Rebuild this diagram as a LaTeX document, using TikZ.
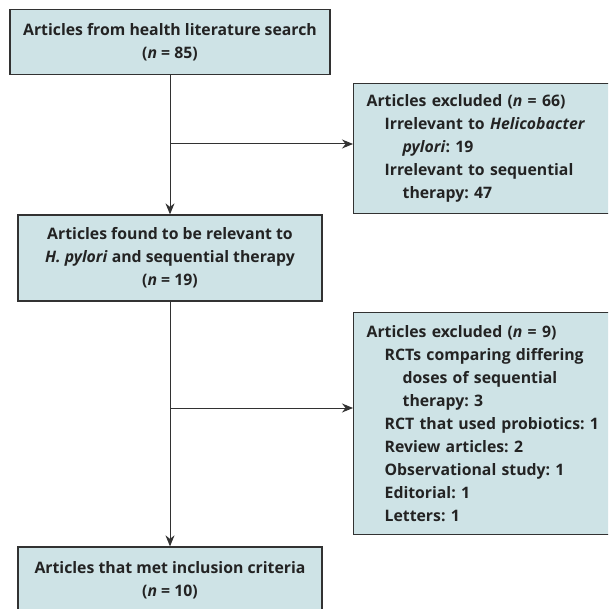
\documentclass[tikz,border=0pt]{standalone}
\usepackage{fontspec}
\setmainfont{Open Sans}
\usetikzlibrary{arrows.meta}
\definecolor{boxfill}{RGB}{206,227,230}
\definecolor{boxline}{RGB}{50,50,50}
\definecolor{boxtext}{RGB}{35,35,35}
\frenchspacing
\begin{document}
\begin{tikzpicture}[x=1pt, y=-1pt,
	box/.style={draw=boxline, fill=boxfill, text=boxtext, line width=1.3pt, align=center, inner sep=0pt,
		font=\bfseries\fontsize{15.8}{23}\selectfont},
	excl/.style={box, align=left, anchor=north west, inner xsep=13pt, inner ysep=0pt},
	arr/.style={draw=boxline, line width=1pt, -{Stealth[length=11pt,width=9pt]}}]
	\clip (0,0) rectangle (608,609);
	\fill[white] (0,0) rectangle (608,609);
	%% main column
	\node[box, minimum width=320pt, minimum height=65pt] (search) at (170,42)
		{Articles from health literature search\\(\textit{n} = 85)};
	\node[box, minimum width=304pt, minimum height=86pt] (relevant) at (170,258)
		{Articles found to be relevant to\\\textit{H. pylori} and sequential therapy\\(\textit{n} = 19)};
	\node[box, minimum width=304pt, minimum height=66pt] (included) at (170,580)
		{Articles that met inclusion criteria\\(\textit{n} = 10)};
	%% excluded boxes
	\node[excl, minimum width=270pt, minimum height=130pt, text width=244pt] (excla) at (353,83)
		{Articles excluded (\textit{n} = 66)\\
		\hspace*{18pt}Irrelevant to \textit{Helicobacter}\\
		\hspace*{36pt}\textit{pylori}: 19\\
		\hspace*{18pt}Irrelevant to sequential\\
		\hspace*{36pt}therapy: 47};
	\node[excl, minimum width=270pt, minimum height=222pt, text width=244pt] (exclb) at (353,312)
		{Articles excluded (\textit{n} = 9)\\
		\hspace*{18pt}RCTs comparing differing\\
		\hspace*{36pt}doses of sequential\\
		\hspace*{36pt}therapy: 3\\
		\hspace*{18pt}RCT that used probiotics: 1\\
		\hspace*{18pt}Review articles: 2\\
		\hspace*{18pt}Observational study: 1\\
		\hspace*{18pt}Editorial: 1\\
		\hspace*{18pt}Letters: 1};
	%% connectors
	\coordinate (ja) at (170,144);
	\coordinate (jb) at (170,408);
	\draw[arr] (search.south) -- (relevant.north);
	\draw[arr] (ja) -- (ja -| excla.west);
	\draw[arr] (relevant.south) -- (included.north);
	\draw[arr] (jb) -- (jb -| exclb.west);
\end{tikzpicture}
\end{document}
